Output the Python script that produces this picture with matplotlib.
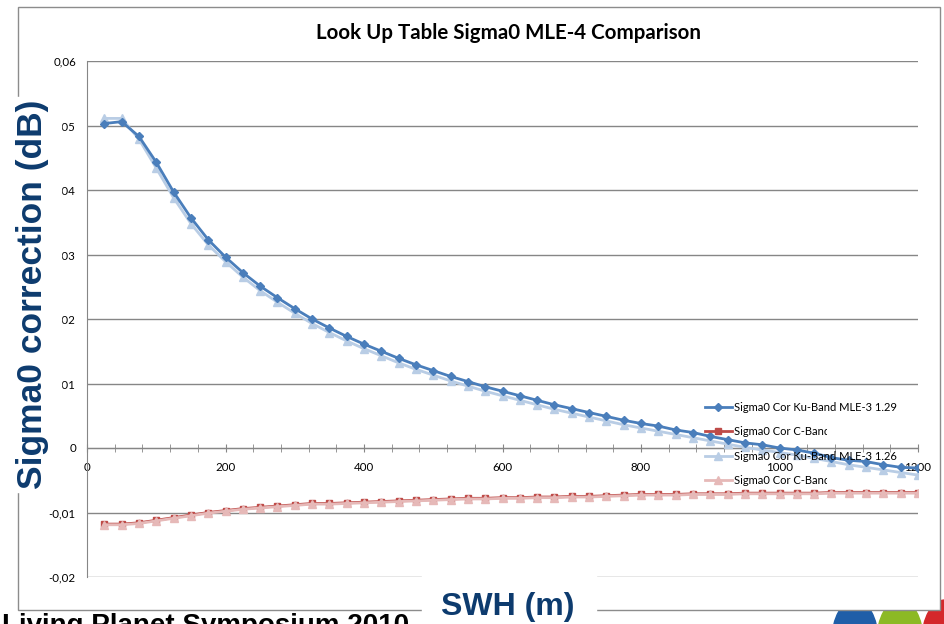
import matplotlib.pyplot as plt
import matplotlib.patches as patches
from matplotlib.ticker import MultipleLocator, FuncFormatter
from matplotlib.transforms import Bbox, TransformedBbox

# SWH grid (m)
swh = [25 * (i + 1) for i in range(48)]

ku_129 = [0.0503, 0.0506, 0.0483, 0.0443, 0.0397, 0.0357, 0.0323, 0.0296,
          0.0272, 0.0251, 0.0233, 0.0216, 0.0200, 0.0186, 0.0173, 0.0161,
          0.0150, 0.0139, 0.0129, 0.0120, 0.0111, 0.0103, 0.0095, 0.0088,
          0.0081, 0.0074, 0.0067, 0.0061, 0.0055, 0.0049, 0.0043, 0.0038,
          0.0034, 0.0028, 0.0024, 0.0018, 0.0013, 0.0008, 0.0005, 0.0000,
          -0.0003, -0.0008, -0.0015, -0.0019, -0.0021, -0.0026, -0.0030, -0.0031]

ku_126 = [0.0511, 0.0511, 0.0479, 0.0434, 0.0388, 0.0348, 0.0315, 0.0289,
          0.0265, 0.0244, 0.0226, 0.0209, 0.0193, 0.0179, 0.0166, 0.0154,
          0.0143, 0.0132, 0.0122, 0.0113, 0.0104, 0.0096, 0.0088, 0.0081,
          0.0074, 0.0067, 0.0060, 0.0054, 0.0048, 0.0042, 0.0036, 0.0031,
          0.0026, 0.0021, 0.0016, 0.0011, 0.0006, 0.0001, -0.0003, -0.0007,
          -0.0011, -0.0016, -0.0021, -0.0026, -0.0030, -0.0034, -0.0038, -0.0042]

c_band_a = [-0.0118, -0.0118, -0.0116, -0.0112, -0.0108, -0.0104, -0.0100, -0.0097,
            -0.0094, -0.0092, -0.0090, -0.0088, -0.0086, -0.0086, -0.0085, -0.0084,
            -0.0083, -0.0082, -0.0081, -0.0080, -0.0079, -0.0078, -0.0078, -0.0077,
            -0.0077, -0.0076, -0.0076, -0.0075, -0.0075, -0.0074, -0.0073, -0.0072,
            -0.0072, -0.0072, -0.0071, -0.0071, -0.0071, -0.0070, -0.0070, -0.0070,
            -0.0070, -0.0070, -0.0069, -0.0069, -0.0069, -0.0069, -0.0069, -0.0069]

c_band_b = [-0.0119, -0.0119, -0.0117, -0.0113, -0.0109, -0.0105, -0.0101, -0.0098,
            -0.0095, -0.0093, -0.0091, -0.0089, -0.0087, -0.0087, -0.0086, -0.0085,
            -0.0084, -0.0083, -0.0082, -0.0081, -0.0080, -0.0079, -0.0079, -0.0078,
            -0.0078, -0.0077, -0.0077, -0.0076, -0.0076, -0.0075, -0.0074, -0.0073,
            -0.0073, -0.0073, -0.0072, -0.0072, -0.0072, -0.0071, -0.0071, -0.0071,
            -0.0071, -0.0071, -0.0070, -0.0070, -0.0070, -0.0070, -0.0070, -0.0070]

labels = ["Sigma0 Cor Ku-Band MLE-3 1.29", "Sigma0 Cor C-Band",
          "Sigma0 Cor Ku-Band MLE-3 1.26", "Sigma0 Cor C-Band"]

W, H = 945, 624
fig = plt.figure(figsize=(W / 100, H / 100), dpi=100)
plt.rcParams['font.family'] = ['Lato', 'DejaVu Sans']

def fx(px):
    return px / W

def fy(py):
    return 1 - py / H

# outer chart box
frame = patches.Rectangle((fx(18), fy(610)), fx(940) - fx(18), fy(7) - fy(610),
                          transform=fig.transFigure, facecolor='white',
                          edgecolor='#8c8c8c', lw=1, zorder=1)
fig.patches.append(frame)

# logo blobs peeking out under the box
for cx, col in [(855, '#1f5ea8'), (900, '#8cb925'), (945, '#d4282b')]:
    fig.patches.append(patches.Ellipse((fx(cx), fy(640)), 46 / W, 80 / H,
                                       transform=fig.transFigure, color=col, zorder=0.5))

ax = fig.add_axes([fx(87), fy(577), fx(918) - fx(87), fy(61) - fy(577)], zorder=2)
ax.patch.set_alpha(0)

gray = '#868686'
ax.plot(swh, ku_129, color='#4a7ebb', lw=2.0, marker='D', ms=4, zorder=4, label=labels[0])
ax.plot(swh, c_band_a, color='#be4b48', lw=2.0, marker='s', ms=5, zorder=3, label=labels[1])
ax.plot(swh, ku_126, color='#b9cde5', lw=2.0, marker='^', ms=6, zorder=3, label=labels[2])
ax.plot(swh, c_band_b, color='#e6b9b8', lw=2.0, marker='^', ms=6, zorder=4, label=labels[3])

ax.set_xlim(0, 1200)
ax.set_ylim(-0.02, 0.06)
ax.yaxis.set_major_locator(MultipleLocator(0.01))
ax.xaxis.set_major_locator(MultipleLocator(200))
ax.xaxis.set_minor_locator(MultipleLocator(40))

def comma(v, pos):
    if abs(v) < 1e-9:
        return '0'
    return f'{v:.2f}'.replace('.', ',')

ax.yaxis.set_major_formatter(FuncFormatter(comma))
ax.grid(axis='y', color=gray, lw=1)
ax.set_axisbelow(True)

for s in ['top', 'right']:
    ax.spines[s].set_visible(False)
ax.spines['bottom'].set_position(('data', 0))
ax.spines['bottom'].set_color(gray)
ax.spines['left'].set_color(gray)
ax.tick_params(axis='x', which='both', direction='inout', length=6, color=gray,
               labelsize=8.3, pad=7)
ax.tick_params(axis='y', length=0, labelsize=8.3, pad=8)

leg = ax.legend(loc='upper left', bbox_to_anchor=(fx(705), fy(402)),
                bbox_transform=fig.transFigure, frameon=False, fontsize=8,
                handlelength=2.4, handletextpad=0.2, labelspacing=1.2,
                borderpad=0, borderaxespad=0)
leg.set_zorder(6)
for t in leg.get_texts():
    if t.get_text().endswith('C-Band'):
        t.set_clip_box(TransformedBbox(Bbox.from_extents(0, 0, fx(827), 1), fig.transFigure))
        t.set_clip_on(True)

fig.text(fx(509), fy(33), 'Look Up Table Sigma0 MLE-4 Comparison', ha='center',
         va='center', fontsize=14.8, fontweight='bold', zorder=3)

navy = '#0d3b6e'
# white panels behind the axis titles
fig.patches.append(patches.Rectangle((0, fy(492)), fx(61), fy(97) - fy(492),
                                     transform=fig.transFigure, color='white', zorder=5))
fig.patches.append(patches.Rectangle((fx(422), 0), fx(596) - fx(422), fy(566),
                                     transform=fig.transFigure, color='white', zorder=5))
fig.text(fx(33), fy(294), 'Sigma0 correction (dB)', rotation=90, ha='center', va='center',
         fontsize=25.5, fontweight='bold', color=navy, family='Liberation Sans', zorder=6)
fig.text(fx(508), fy(607), 'SWH (m)', ha='center', va='center', fontsize=23,
         fontweight='bold', color=navy, family='Liberation Sans', zorder=6)

fig.text(fx(2), fy(613), 'Living Planet Symposium 2010', ha='left', va='top',
         fontsize=20, fontweight='bold', color='black', family='Liberation Sans', zorder=6)

fig.savefig('out.png', dpi=100)
